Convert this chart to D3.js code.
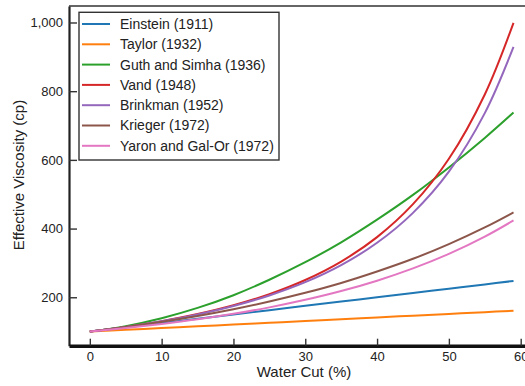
<!DOCTYPE html>
<html>
<head>
<meta charset="utf-8">
<script src="https://cdn.jsdelivr.net/npm/d3@7"></script>
<style>
  html, body { margin: 0; padding: 0; background: #fff; }
  svg { display: block; font-family: "Liberation Sans", Arial, Helvetica, sans-serif; }
</style>
</head>
<body>
<svg id="chart" width="525" height="386"></svg>
<script>
// Water cut (%) at which each viscosity model is evaluated
const waterCut = [0, 5, 10, 15, 20, 25, 30, 35, 40, 45, 50, 55, 59];

// Effective viscosity (cp) for each model
const einstein   = [100, 112.5, 125, 137.5, 150, 162.5, 175, 187.5, 200, 212.5, 225, 237.5, 247.5];
const taylor     = [100, 105.2, 110.3, 115.5, 120.6, 125.8, 130.9, 136, 141.2, 146.4, 151.5, 156.7, 160.8];
const guthSimha  = [100, 116, 139, 169, 206, 251, 302, 360, 426, 498, 578, 664, 738];
const vand       = [100, 113.8, 130.5, 151.1, 176.7, 209, 250.3, 304, 375.1, 471, 603.3, 790.5, 999];
const brinkman   = [100, 113.7, 130.1, 150.1, 174.7, 205.3, 243.9, 293.6, 358.6, 445.8, 565.7, 736.2, 929];
const krieger    = [100, 113.3, 128.5, 145.7, 165.3, 187.6, 212.9, 241.7, 275, 312, 354.7, 403.3, 447];
const yaronGalOr = [100, 110.3, 122.2, 135.9, 152, 170.6, 192.5, 218.1, 248.3, 284, 326.2, 376.5, 423.6];

const seriesNames  = ["Einstein (1911)", "Taylor (1932)", "Guth and Simha (1936)", "Vand (1948)",
                      "Brinkman (1952)", "Krieger (1972)", "Yaron and Gal-Or (1972)"];
const seriesValues = [einstein, taylor, guthSimha, vand, brinkman, krieger, yaronGalOr];
const seriesColors = ["#1f77b4", "#ff7f0e", "#2ca02c", "#d62728", "#9467bd", "#8c564b", "#e377c2"];

const xTicks = [0, 10, 20, 30, 40, 50, 60];
const yTicks = [200, 400, 600, 800, 1000];

const svg = d3.select("#chart");

const x = d3.scaleLinear().domain([-2.9, 60.6]).range([69, 525]);
const y = d3.scaleLinear().domain([59, 1048]).range([345.7, 6]);

// top frame line
svg.append("line")
  .attr("x1", x.range()[0]).attr("x2", x.range()[1])
  .attr("y1", y.range()[1]).attr("y2", y.range()[1])
  .attr("stroke", "#333").attr("stroke-width", 1.6);

// curves
const line = d3.line()
  .x((d, i) => x(waterCut[i]))
  .y(d => y(d))
  .curve(d3.curveCatmullRom.alpha(0.5));

svg.append("g").selectAll("path")
  .data(seriesValues)
  .join("path")
  .attr("d", d => line(d))
  .attr("fill", "none")
  .attr("stroke", (d, i) => seriesColors[i])
  .attr("stroke-width", 2);

// y axis
const yAxis = svg.append("g")
  .attr("transform", `translate(${x.range()[0]},0)`)
  .call(d3.axisLeft(y).tickValues(yTicks).tickFormat(d3.format(","))
        .tickSizeInner(-8).tickSizeOuter(0).tickPadding(6));
yAxis.select(".domain").attr("stroke", "#222").attr("stroke-width", 2.2);
yAxis.selectAll(".tick line").attr("stroke", "#333").attr("stroke-width", 1.4);
yAxis.selectAll(".tick text").attr("font-size", 13).attr("fill", "#222")
  .attr("font-family", "'Liberation Sans', Arial, sans-serif");

// x axis
const xAxis = svg.append("g")
  .attr("transform", `translate(0,${y.range()[0]})`)
  .call(d3.axisBottom(x).tickValues(xTicks).tickFormat(d3.format("d"))
        .tickSizeInner(-7).tickSizeOuter(0).tickPadding(6));
xAxis.select(".domain").attr("stroke", "#111").attr("stroke-width", 3.4);
xAxis.selectAll(".tick line").attr("stroke", "#333").attr("stroke-width", 1.4);
xAxis.selectAll(".tick text").attr("font-size", 13).attr("fill", "#222")
  .attr("font-family", "'Liberation Sans', Arial, sans-serif");

// axis titles
svg.append("text")
  .attr("x", 304).attr("y", 377)
  .attr("text-anchor", "middle")
  .attr("font-size", 15).attr("fill", "#222")
  .text("Water Cut (%)");

svg.append("text")
  .attr("transform", "translate(24,175) rotate(-90)")
  .attr("text-anchor", "middle")
  .attr("font-size", 15).attr("fill", "#222")
  .text("Effective Viscosity (cp)");

// legend
const legend = svg.append("g");
legend.append("rect")
  .attr("x", 79).attr("y", 12.3).attr("width", 200).attr("height", 147.7)
  .attr("fill", "#fff").attr("stroke", "#333").attr("stroke-width", 1.4);

const rowY = i => 24 + i * 20.3;
const rows = legend.selectAll("g.row")
  .data(seriesNames)
  .join("g").attr("class", "row");
rows.append("line")
  .attr("x1", 82).attr("x2", 110)
  .attr("y1", (d, i) => rowY(i)).attr("y2", (d, i) => rowY(i))
  .attr("stroke", (d, i) => seriesColors[i]).attr("stroke-width", 2);
rows.append("text")
  .attr("x", 120).attr("y", (d, i) => rowY(i))
  .attr("dy", "0.35em")
  .attr("font-size", 14).attr("fill", "#222")
  .text(d => d);
</script>
</body>
</html>
